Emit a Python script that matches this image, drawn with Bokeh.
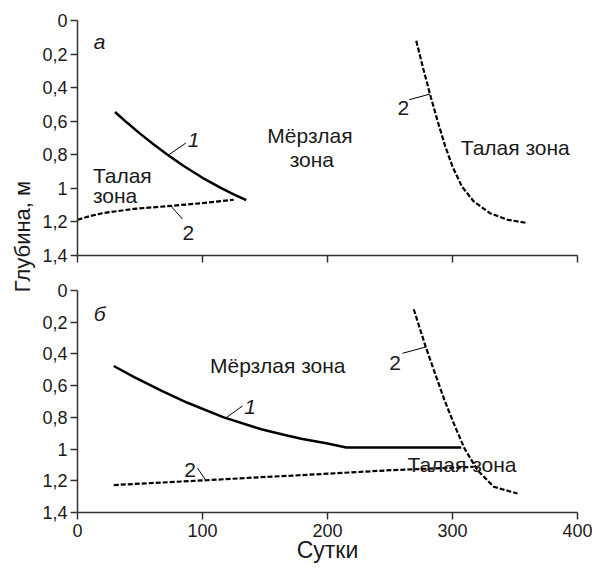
import numpy as np
from bokeh.plotting import figure
from bokeh.models import Range1d, FixedTicker, CustomJSTickFormatter, Label
from bokeh.layouts import row, column
from bokeh.embed import file_html
from bokeh.resources import INLINE

FONT = "Liberation Sans"
INK = "#1a1a1a"

# ---- data: panel "а" ----
a_line1_x = [30, 40, 50, 60, 72, 85, 100, 115, 125, 135]
a_line1_y = [0.545, 0.611, 0.674, 0.733, 0.80, 0.867, 0.937, 0.999, 1.036, 1.07]
a_line2_left_x = [0, 10, 20, 45, 72, 100, 125]
a_line2_left_y = [1.187, 1.165, 1.148, 1.122, 1.106, 1.088, 1.068]
a_line2_right_x = [271, 276.5, 281.8, 287.8, 294.2, 300, 307.5, 317, 330, 344, 360]
a_line2_right_y = [0.121, 0.284, 0.433, 0.592, 0.750, 0.870, 0.989, 1.078, 1.148, 1.187, 1.207]

# ---- data: panel "б" ----
b_line1_x = [29, 45, 67, 88, 117, 147, 165, 179, 200, 215, 307]
b_line1_y = [0.476, 0.545, 0.632, 0.708, 0.800, 0.875, 0.910, 0.935, 0.965, 0.99, 0.99]
b_line2_low_x = [29, 104, 152, 171, 251, 317]
b_line2_low_y = [1.227, 1.196, 1.175, 1.168, 1.133, 1.112]
b_line2_steep_x = [269, 278.5, 286, 293.5, 301, 309.5, 320, 333, 352]
b_line2_steep_y = [0.118, 0.354, 0.522, 0.690, 0.838, 0.995, 1.133, 1.238, 1.280]

x_ticks = [0, 100, 200, 300, 400]
y_ticks = [0, 0.2, 0.4, 0.6, 0.8, 1.0, 1.2, 1.4]
x_title = "Сутки"
y_title = "Глубина, м"

P1_H = 270
P2_H = 297
LEFT_W = 36


def make_panel(height, top, bottom, show_x):
    p = figure(width=556, height=height, output_backend="svg", toolbar_location=None,
               x_range=Range1d(0, 400), y_range=Range1d(1.4, 0),
               min_border_left=41, min_border_right=15,
               min_border_top=top, min_border_bottom=bottom)
    p.outline_line_color = None
    p.xgrid.visible = False
    p.ygrid.visible = False
    p.background_fill_color = "white"
    p.border_fill_color = "white"
    for ax in (p.xaxis[0], p.yaxis[0]):
        ax.axis_line_color = "#333333"
        ax.axis_line_width = 1.5
        ax.major_tick_line_color = "#333333"
        ax.major_tick_line_width = 1.5
        ax.major_tick_out = 7
        ax.major_tick_in = 0
        ax.minor_tick_line_color = None
        ax.major_label_text_font = FONT
        ax.major_label_text_font_size = "18px"
        ax.major_label_text_color = INK
        ax.major_label_standoff = 3
    p.xaxis.ticker = FixedTicker(ticks=x_ticks)
    p.yaxis.ticker = FixedTicker(ticks=y_ticks)
    p.yaxis.formatter = CustomJSTickFormatter(
        code="return String(Math.round(tick*10)/10).replace('.', ',');")
    if show_x:
        p.xaxis.axis_label = x_title
        p.xaxis.axis_label_text_font = FONT
        p.xaxis.axis_label_text_font_size = "23px"
        p.xaxis.axis_label_text_font_style = "normal"
        p.xaxis.axis_label_text_color = INK
        p.xaxis.axis_label_standoff = -3
        p.xaxis.major_label_standoff = 4
    else:
        p.xaxis.formatter = CustomJSTickFormatter(code="return '';")
        p.xaxis.major_label_text_font_size = "0px"
        p.xaxis.major_label_standoff = 0
    return p


def txt(p, x, y, s, align="left", style="normal"):
    p.add_layout(Label(x=x, y=y, text=s, text_font=FONT, text_font_size="21px",
                       text_color=INK, text_align=align, text_baseline="alphabetic",
                       text_font_style=style))


def leader(p, x0, y0, x1, y1):
    p.segment(x0=[x0], y0=[y0], x1=[x1], y1=[y1], line_color="black", line_width=1)


# ---- panel а ----
p1 = make_panel(P1_H, 20, 15, False)
p1.line(a_line1_x, a_line1_y, line_color="black", line_width=2.5)
p1.line(a_line2_left_x, a_line2_left_y, line_color="black", line_width=2.2, line_dash="5 2")
p1.line(a_line2_right_x, a_line2_right_y, line_color="black", line_width=2.2, line_dash="5 2")
txt(p1, 13, 0.125, "а", style="italic")
txt(p1, 12.3, 0.925, "Талая")
txt(p1, 12.3, 1.044, "зона")
txt(p1, 186, 0.687, "Мёрзлая", align="center")
txt(p1, 187.5, 0.83, "зона", align="center")
txt(p1, 306.6, 0.756, "Талая зона")
txt(p1, 88.2, 0.709, "1", style="italic")
leader(p1, 72.5, float(np.interp(72.5, a_line1_x, a_line1_y)), 86.7, 0.73)
txt(p1, 84, 1.267, "2")
leader(p1, 74.6, float(np.interp(74.6, a_line2_left_x, a_line2_left_y)), 84, 1.183)
txt(p1, 256, 0.522, "2")
leader(p1, 265.3, 0.472, 282, float(np.interp(282, a_line2_right_x, a_line2_right_y)))

# ---- panel б ----
p2 = make_panel(P2_H, 20, 55, True)
p2.line(b_line1_x, b_line1_y, line_color="black", line_width=2.5)
p2.line(b_line2_low_x, b_line2_low_y, line_color="black", line_width=2.2, line_dash="5 2")
p2.line(b_line2_steep_x, b_line2_steep_y, line_color="black", line_width=2.2, line_dash="5 2")
txt(p2, 13, 0.145, "б", style="italic")
txt(p2, 106, 0.47, "Мёрзлая зона")
txt(p2, 264, 1.095, "Талая зона")
txt(p2, 133.3, 0.733, "1", style="italic")
leader(p2, 118.6, float(np.interp(118.6, b_line1_x, b_line1_y)), 132, 0.728)
txt(p2, 85.3, 1.13, "2")
leader(p2, 96, 1.12, 102.6, float(np.interp(102.6, b_line2_low_x, b_line2_low_y)))
txt(p2, 249.3, 0.459, "2")
leader(p2, 260, 0.396, 278.6, float(np.interp(278.6, b_line2_steep_x, b_line2_steep_y)))

# ---- shared y-axis title ----
total_h = P1_H + P2_H
pl = figure(width=LEFT_W, height=total_h, output_backend="svg", toolbar_location=None,
            x_range=Range1d(0, LEFT_W), y_range=Range1d(0, total_h), min_border=0)
pl.axis.visible = False
pl.grid.visible = False
pl.outline_line_color = None
pl.add_layout(Label(x=22, y=total_h - 236, text=y_title, angle=np.pi / 2,
                    text_font=FONT, text_font_size="22px", text_color=INK,
                    text_align="center", text_baseline="middle"))

layout = row(pl, column(p1, p2, spacing=0), spacing=0)
open("out.html", "w").write(file_html(layout, INLINE))
